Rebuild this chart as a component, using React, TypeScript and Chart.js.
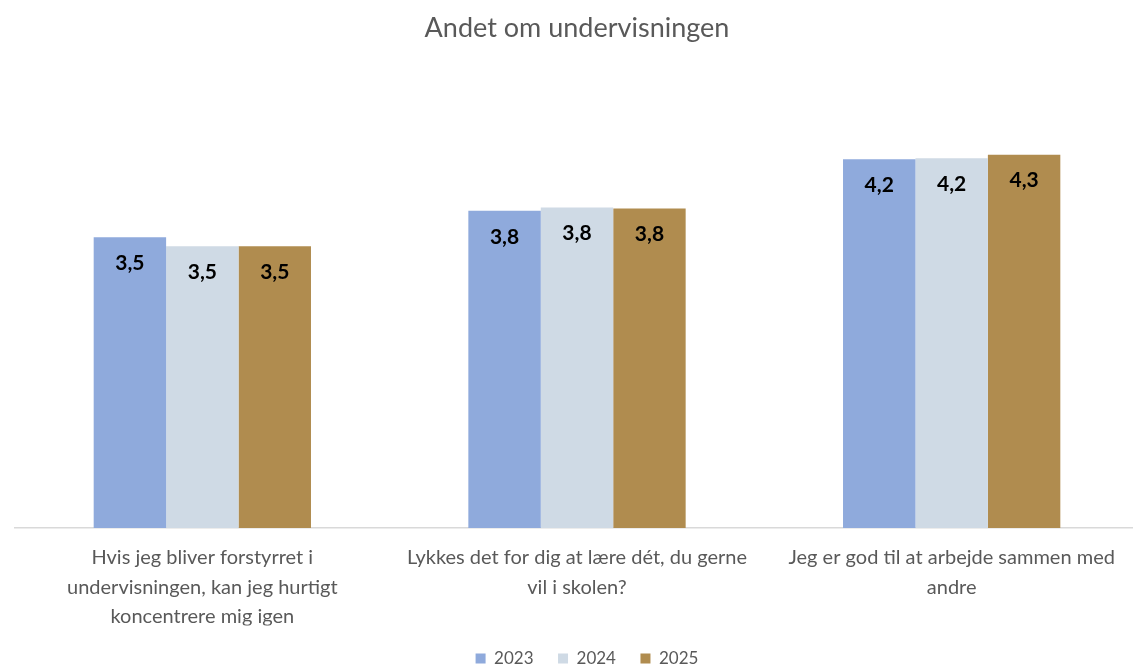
import React, { useEffect, useRef } from "react";
import { Chart, registerables } from "chart.js";

Chart.register(...registerables);

const categories: string[][] = [
  ["Hvis jeg bliver forstyrret i", "undervisningen, kan jeg hurtigt", "koncentrere mig igen"],
  ["Lykkes det for dig at lære dét, du gerne", "vil i skolen?"],
  ["Jeg er god til at arbejde sammen med", "andre"],
];
const seriesNames = ["2023", "2024", "2025"];
const values2023 = [3.54, 3.77, 4.22];
const values2024 = [3.46, 3.8, 4.23];
const values2025 = [3.46, 3.79, 4.26];
const seriesColors = ["#8faadc", "#cfdae5", "#b08c4f"];

const FONT = "Lato, 'Open Sans', sans-serif";

const dataLabelPlugin = {
  id: "barValueLabels",
  afterDatasetsDraw(chart: any) {
    const ctx = chart.ctx;
    ctx.save();
    ctx.font = `bold 21px ${FONT}`;
    ctx.fillStyle = "#000000";
    ctx.textAlign = "center";
    ctx.textBaseline = "middle";
    chart.data.datasets.forEach((ds: any, di: number) => {
      const meta = chart.getDatasetMeta(di);
      meta.data.forEach((bar: any, i: number) => {
        const v = ds.data[i] as number;
        const txt = v.toFixed(1).replace(".", ",");
        ctx.fillText(txt, bar.x, bar.y + 26);
      });
    });
    ctx.restore();
  },
};

const legendShiftPlugin = {
  id: "legendShift",
  afterLayout(chart: any) {
    const lg = chart.legend;
    if (lg) {
      lg.left += 10;
      lg.right += 10;
    }
  },
};

export default function App() {
  const ref = useRef<HTMLCanvasElement | null>(null);
  useEffect(() => {
    if (!ref.current) return;
    const chart = new Chart(ref.current, {
      type: "bar",
      data: {
        labels: categories,
        datasets: [values2023, values2024, values2025].map((d, i) => ({
          label: seriesNames[i],
          data: d,
          backgroundColor: seriesColors[i],
          borderWidth: 0,
          categoryPercentage: 0.58,
          barPercentage: 1,
        })),
      },
      options: {
        animation: false,
        responsive: false,
        devicePixelRatio: 1,
        layout: { padding: { left: 15, right: 0, top: 0, bottom: 0 } },
        plugins: {
          title: {
            display: true,
            text: "Andet om undervisningen",
            color: "#595959",
            font: { family: FONT, size: 27, weight: "normal", lineHeight: 1.2 },
            padding: { top: 11.8, bottom: 25.8 },
          },
          legend: {
            position: "bottom",
            labels: {
              color: "#595959",
              font: { family: FONT, size: 17 },
              boxWidth: 10,
              boxHeight: 10,
              padding: 24.5,
            },
          },
          tooltip: { enabled: false },
        },
        scales: {
          x: {
            grid: { display: false, drawTicks: false },
            border: { display: true, color: "#d9d9d9", width: 1.5 },
            ticks: {
              color: "#595959",
              font: { family: FONT, size: 20, lineHeight: "29.5px" },
              padding: 15,
              maxRotation: 0,
              autoSkip: false,
            },
            afterFit: (scale: any) => {
              scale.height = 97.5;
            },
          },
          y: {
            display: false,
            min: 1,
            max: 5,
          },
        },
      },
      plugins: [dataLabelPlugin, legendShiftPlugin],
    } as any);
    return () => chart.destroy();
  }, []);
  return (
    <div style={{ position: "absolute", left: 0, top: 0, width: 1133, height: 665, overflow: "hidden", background: "#fff" }}>
      <canvas ref={ref} width={1139} height={677} style={{ display: "block" }} />
    </div>
  );
}
